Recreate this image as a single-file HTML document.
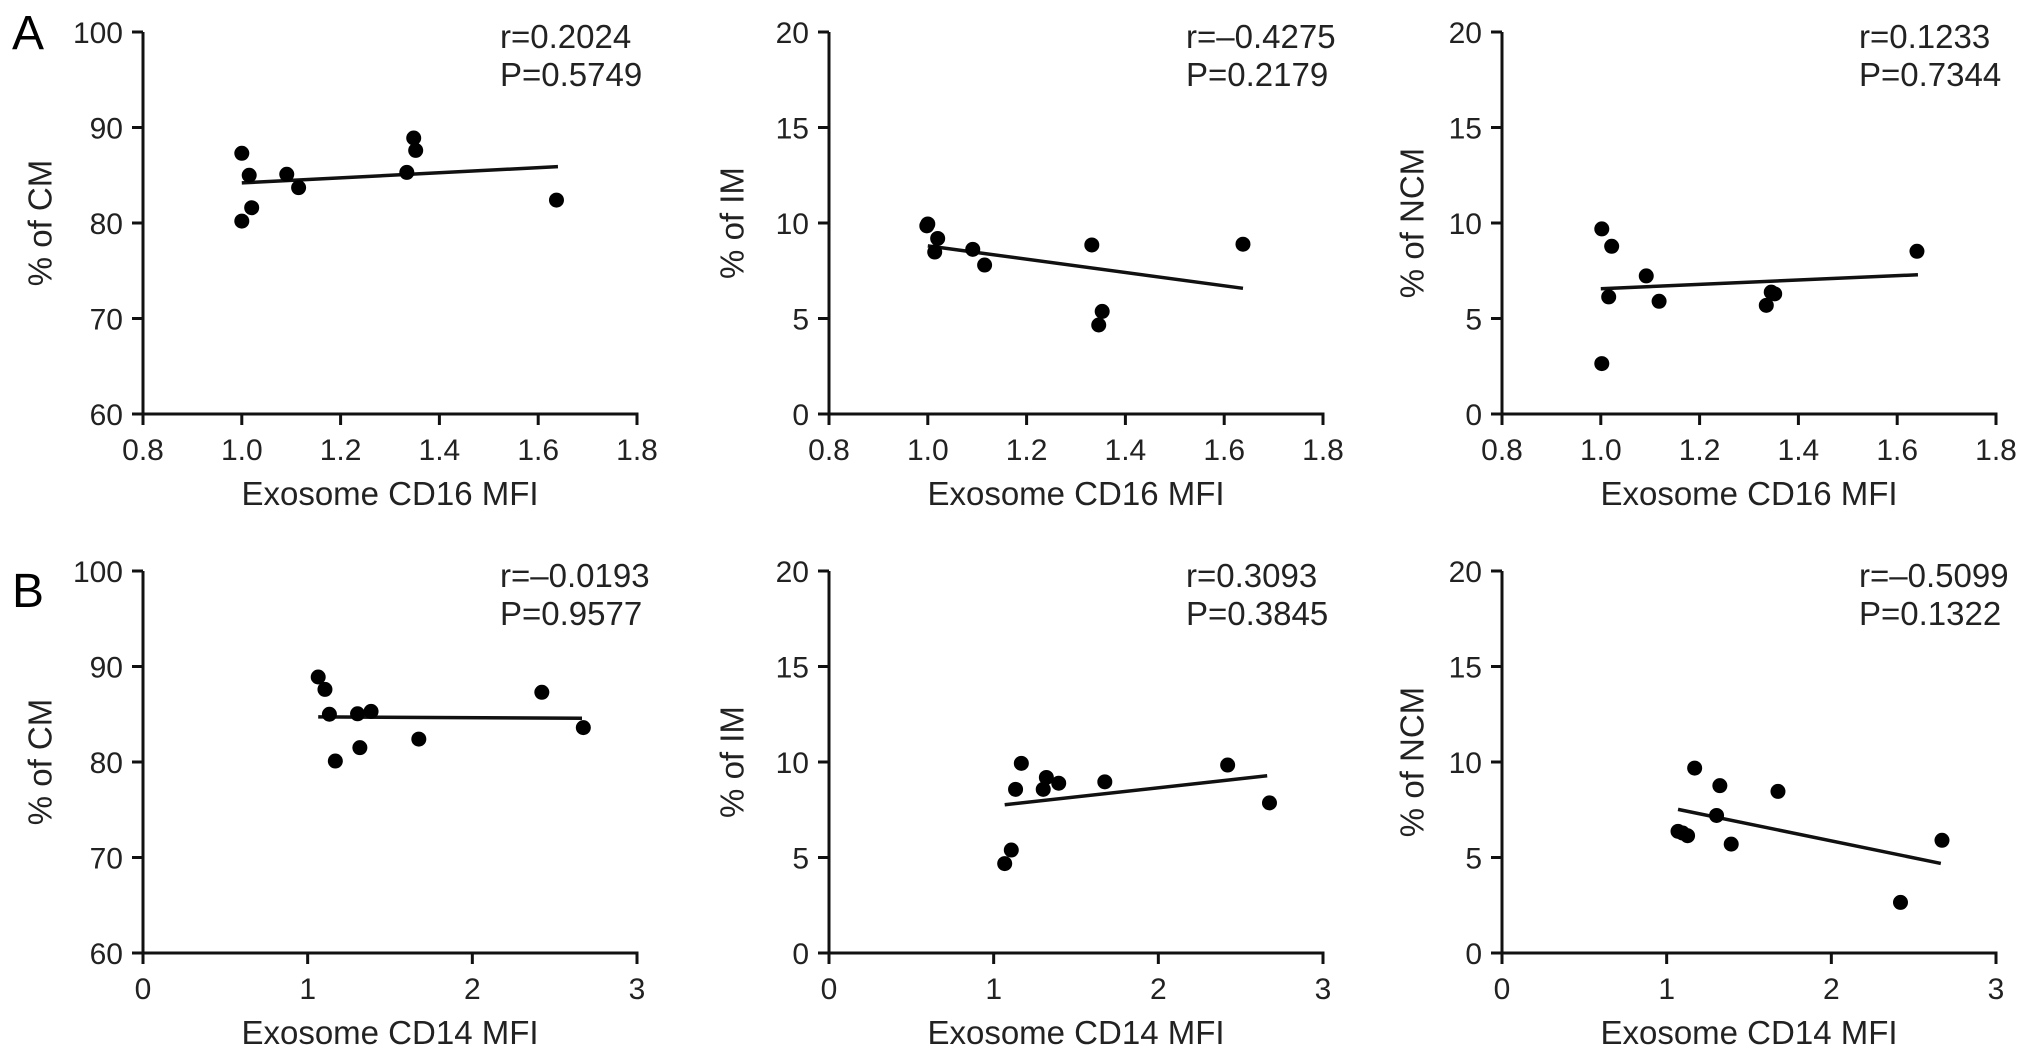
<!DOCTYPE html>
<html><head><meta charset="utf-8"><style>
html,body{margin:0;padding:0;background:#fff;}
svg{display:block;font-family:"Liberation Sans",Arial,sans-serif;}
</style></head><body>
<svg id="fig" width="2032" height="1059" viewBox="0 0 2032 1059" xmlns="http://www.w3.org/2000/svg">
<rect width="2032" height="1059" fill="#fff"/>
<text x="12" y="49" font-size="48">A</text>
<text x="12" y="607" font-size="48">B</text>
</svg>
<script>
// ---- data ----
const cd16X = [1.0, 1.015, 1.091, 1.115, 1.02, 1.0, 1.348, 1.352, 1.334, 1.637];
const a1CM = [87.3, 85.0, 85.1, 83.7, 81.6, 80.2, 88.9, 87.6, 85.3, 82.4];
const a2X = [0.998, 1.0, 1.014, 1.02, 1.091, 1.115, 1.332, 1.346, 1.353, 1.638];
const a2IM = [9.85, 9.95, 8.48, 9.19, 8.62, 7.80, 8.85, 4.66, 5.37, 8.89];
const a3X = [1.002, 1.022, 1.092, 1.016, 1.118, 1.335, 1.352, 1.345, 1.002, 1.64];
const a3NCM = [9.69, 8.78, 7.23, 6.13, 5.90, 5.69, 6.29, 6.38, 2.64, 8.52];
const b1X = [1.064, 1.105, 1.132, 1.303, 1.385, 1.317, 1.168, 1.675, 2.422, 2.674];
const b1CM = [88.9, 87.6, 85.0, 85.05, 85.3, 81.5, 80.1, 82.4, 87.3, 83.6];
const b2X = [1.168, 1.133, 1.301, 1.32, 1.395, 1.675, 2.421, 2.675, 1.107, 1.067];
const b2IM = [9.93, 8.57, 8.57, 9.19, 8.89, 8.96, 9.84, 7.86, 5.39, 4.68];
const b3X = [1.17, 1.323, 1.676, 1.303, 1.069, 1.127, 1.392, 2.672, 2.42, 1.097];
const b3NCM = [9.68, 8.76, 8.46, 7.2, 6.37, 6.14, 5.7, 5.9, 2.65, 6.28];
const fitA1 = [[1.0, 84.2], [1.64, 85.9]];
const fitA2 = [[1.0, 8.80], [1.638, 6.58]];
const fitA3 = [[1.0, 6.56], [1.642, 7.29]];
const fitB1 = [[1.064, 84.72], [2.666, 84.58]];
const fitB2 = [[1.067, 7.76], [2.661, 9.28]];
const fitB3 = [[1.069, 7.52], [2.665, 4.69]];
const xTicksA = ["0.8","1.0","1.2","1.4","1.6","1.8"];
const xTicksB = ["0","1","2","3"];
const yTicksCM = ["60","70","80","90","100"];
const yTicks20 = ["0","5","10","15","20"];
const stats = [["r=0.2024","P=0.5749"],["r=\u20130.4275","P=0.2179"],["r=0.1233","P=0.7344"],
               ["r=\u20130.0193","P=0.9577"],["r=0.3093","P=0.3845"],["r=\u20130.5099","P=0.1322"]];

const svg = document.getElementById('fig');
const NS = 'http://www.w3.org/2000/svg';
function mk(tag, attrs, txt){
  const e = document.createElementNS(NS, tag);
  for (const k in attrs) e.setAttribute(k, attrs[k]);
  if (txt !== undefined) e.textContent = txt;
  svg.appendChild(e);
  return e;
}
const W = 494, H = 382;
const panels = [
  {id:'a1', ax:143, top:32, xmin:0.8, xmax:1.8, xt:xTicksA, ymin:60, ymax:100, yt:yTicksCM, xs:cd16X, ys:a1CM, fit:fitA1, yl:'% of CM', xl:'Exosome CD16 MFI', ylo:-103},
  {id:'a2', ax:829, top:32, xmin:0.8, xmax:1.8, xt:xTicksA, ymin:0, ymax:20, yt:yTicks20, xs:a2X, ys:a2IM, fit:fitA2, yl:'% of IM', xl:'Exosome CD16 MFI', ylo:-97},
  {id:'a3', ax:1502, top:32, xmin:0.8, xmax:1.8, xt:xTicksA, ymin:0, ymax:20, yt:yTicks20, xs:a3X, ys:a3NCM, fit:fitA3, yl:'% of NCM', xl:'Exosome CD16 MFI', ylo:-90},
  {id:'b1', ax:143, top:571, xmin:0, xmax:3, xt:xTicksB, ymin:60, ymax:100, yt:yTicksCM, xs:b1X, ys:b1CM, fit:fitB1, yl:'% of CM', xl:'Exosome CD14 MFI', ylo:-103},
  {id:'b2', ax:829, top:571, xmin:0, xmax:3, xt:xTicksB, ymin:0, ymax:20, yt:yTicks20, xs:b2X, ys:b2IM, fit:fitB2, yl:'% of IM', xl:'Exosome CD14 MFI', ylo:-97},
  {id:'b3', ax:1502, top:571, xmin:0, xmax:3, xt:xTicksB, ymin:0, ymax:20, yt:yTicks20, xs:b3X, ys:b3NCM, fit:fitB3, yl:'% of NCM', xl:'Exosome CD14 MFI', ylo:-90}
];
panels.forEach((p, i) => {
  const bot = p.top + H;
  const sx = v => p.ax + (v - p.xmin) / (p.xmax - p.xmin) * W;
  const sy = v => bot - (v - p.ymin) / (p.ymax - p.ymin) * H;
  let e;
  e = mk('line', {x1:p.ax, y1:p.top, x2:p.ax, y2:bot+1.5, stroke:'#111', 'stroke-width':3});
  
  
  e = mk('line', {x1:p.ax-1.5, y1:bot, x2:p.ax+W+1.5, y2:bot, stroke:'#111', 'stroke-width':3});
  
  
  p.xt.forEach(t => {
    const x = sx(parseFloat(t));
    e = mk('line', {x1:x, y1:bot, x2:x, y2:bot+11, stroke:'#111', 'stroke-width':3});
    
    
    e = mk('text', {x:x, y:bot+46, 'font-size':30, 'text-anchor':'middle', fill:'#222'}, t);
    
    
  });
  p.yt.forEach(t => {
    const y = sy(parseFloat(t));
    e = mk('line', {x1:p.ax-11, y1:y, x2:p.ax, y2:y, stroke:'#111', 'stroke-width':3});
    
    
    e = mk('text', {x:p.ax-20, y:y+11, 'font-size':30, 'text-anchor':'end', fill:'#222'}, t);
    
    
  });
  e = mk('text', {x:p.ax+W/2, y:bot+91, 'font-size':33, 'text-anchor':'middle', fill:'#222'}, p.xl);
  
  
  const cx = p.ax + p.ylo, cy = p.top + H/2;
  e = mk('text', {x:cx, y:cy, 'font-size':33, 'text-anchor':'middle', 'dominant-baseline':'central', fill:'#222', transform:`rotate(-90 ${cx} ${cy})`}, p.yl);
  
  
  e = mk('text', {x:p.ax+357, y:p.top+16, 'font-size':33, fill:'#222'}, stats[i][0]);
  
  
  e = mk('text', {x:p.ax+357, y:p.top+54, 'font-size':33, fill:'#222'}, stats[i][1]);
  
  
  e = mk('line', {x1:sx(p.fit[0][0]), y1:sy(p.fit[0][1]), x2:sx(p.fit[1][0]), y2:sy(p.fit[1][1]), stroke:'#111', 'stroke-width':3.5});
  
  
  p.xs.forEach((xv, k) => {
    e = mk('circle', {cx:sx(xv), cy:sy(p.ys[k]), r:7.5, fill:'#000'});
    
    
  });
});
</script>
</body></html>
